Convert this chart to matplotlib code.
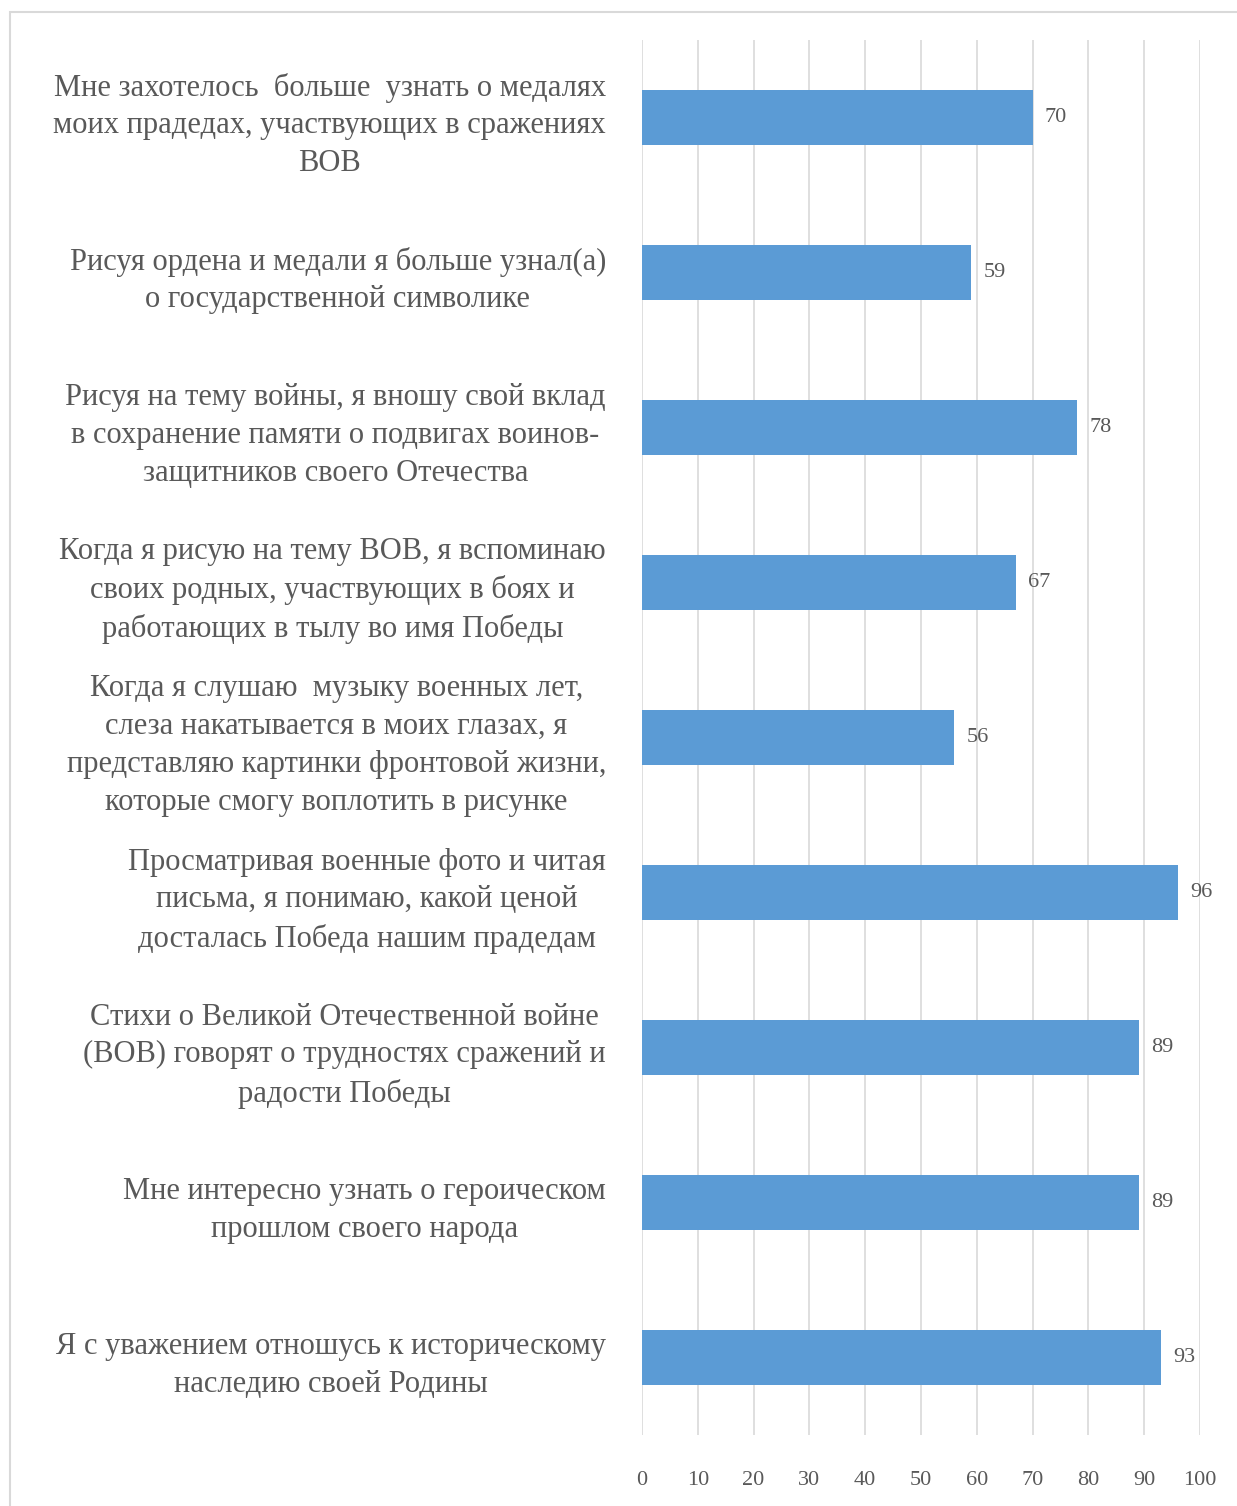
import matplotlib
matplotlib.use('Agg')
import matplotlib.pyplot as plt
from matplotlib.patches import Rectangle

labels = [
    "Мне захотелось  больше  узнать о медалях\nмоих прадедах, участвующих в сражениях\nВОВ",
    "Рисуя ордена и медали я больше узнал(а)\nо государственной символике",
    "Рисуя на тему войны, я вношу свой вклад\nв сохранение памяти о подвигах воинов-\nзащитников своего Отечества",
    "Когда я рисую на тему ВОВ, я вспоминаю\nсвоих родных, участвующих в боях и\nработающих в тылу во имя Победы",
    "Когда я слушаю  музыку военных лет,\nслеза накатывается в моих глазах, я\nпредставляю картинки фронтовой жизни,\nкоторые смогу воплотить в рисунке",
    "Просматривая военные фото и читая\nписьма, я понимаю, какой ценой\nдосталась Победа нашим прадедам",
    "Стихи о Великой Отечественной войне\n(ВОВ) говорят о трудностях сражений и\nрадости Победы",
    "Мне интересно узнать о героическом\nпрошлом своего народа",
    "Я с уважением отношусь к историческому\nнаследию своей Родины",
]
values = [70, 59, 78, 67, 56, 96, 89, 89, 93]
xticks = list(range(0, 101, 10))

text_color = '#595959'
bar_color = '#5b9bd5'
plt.rcParams['font.family'] = ['Liberation Serif', 'DejaVu Serif']

fig = plt.figure(figsize=(12.37, 15.06), dpi=100)
ax = fig.add_axes([642 / 1237, 1 - 1435 / 1506, (1200 - 642) / 1237, (1435 - 40) / 1506])

pos = list(range(len(values)))
bars = ax.barh(pos, values, height=0.36, color=bar_color, zorder=3)
for b, v in zip(bars, values):
    ax.text(b.get_width() + 2.2, b.get_y() + b.get_height() / 2, str(v),
            va='center', ha='left', fontsize=16, color=text_color)

ax.set_ylim(len(values) - 0.5, -0.5)
ax.set_xlim(0, 100)
ax.set_xticks(xticks)
ax.set_xticklabels([str(t) for t in xticks], fontsize=16, color=text_color)
ax.set_yticks(pos)
ax.set_yticklabels(labels, fontsize=22, color=text_color, ha='right',
                   multialignment='center', linespacing=1.4)
ax.tick_params(axis='y', length=0, pad=26)
ax.tick_params(axis='x', length=0, pad=26)
ax.grid(axis='x', color='#d9d9d9', linewidth=1.2, zorder=0)
for s in ax.spines.values():
    s.set_visible(False)

fig.patches.append(Rectangle((10 / 1237, -0.05), 1.1, 1 - 12 / 1506 + 0.05,
                             transform=fig.transFigure, fill=False,
                             edgecolor='#d9d9d9', linewidth=1.5))

fig.savefig('out.png', dpi=100)
